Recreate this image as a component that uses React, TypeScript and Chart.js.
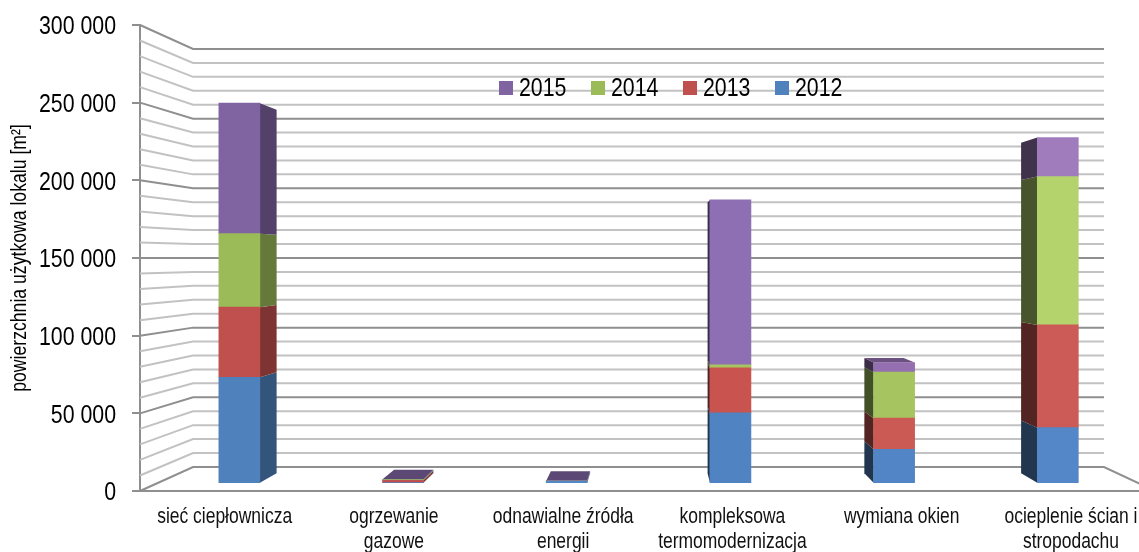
import React, { useEffect, useRef } from "react";
import { Chart, registerables } from "chart.js";

Chart.register(...registerables);

const categories = [
  ["sieć ciepłownicza"],
  ["ogrzewanie", "gazowe"],
  ["odnawialne źródła", "energii"],
  ["kompleksowa", "termomodernizacja"],
  ["wymiana okien"],
  ["ocieplenie ścian i", "stropodachu"],
];
const series2012 = [70300, 100, 1000, 46500, 22300, 36700];
const series2013 = [46700, 1500, 0, 30000, 20700, 68500];
const series2014 = [49000, 500, 0, 2000, 30700, 98900];
const series2015 = [87000, 200, 300, 110000, 6400, 26000];
const shades2012 = ["#4f81bd", "#4f81bd", "#5088c8", "#5083c2", "#5285c5", "#5487c8"];
const shades2013 = ["#c0504d", "#c0504d", "#c0504d", "#c9534f", "#cc5a54", "#cc5a56"];
const shades2014 = ["#9bbb59", "#9bbb59", "#9bbb59", "#a6c561", "#a6c561", "#b4d36d"];
const shades2015 = ["#8064a2", "#8064a2", "#8064a2", "#8f6fb3", "#9470b0", "#a07cbc"];
const seriesLabels = ["2012", "2013", "2014", "2015"];
const yMax = 300000;
const yMajor = 50000;
const yMinor = 10000;
const axisTitle = "powierzchnia użytkowa lokalu [m²]";

const FONT = '"Liberation Sans", Arial, sans-serif';
const NARROW_FACTOR = 0.82;
const VP = { x: 655, y: 257.7 };
const WALL_DEPTH = 0.103;
const BAR_DEPTH = 0.0424;
const WALL_RIGHT = 1104;

function project(x: number, y: number, d: number) {
  return { x: x + (VP.x - x) * d, y: y + (VP.y - y) * d };
}

function darken(hex: string, f: number) {
  const n = parseInt(hex.slice(1), 16);
  const c = [(n >> 16) & 255, (n >> 8) & 255, n & 255].map((v) => Math.round(v * f));
  return `rgb(${c[0]},${c[1]},${c[2]})`;
}

function quad(ctx: CanvasRenderingContext2D, pts: { x: number; y: number }[], fill: string) {
  ctx.fillStyle = fill;
  ctx.beginPath();
  pts.forEach((p, i) => (i ? ctx.lineTo(p.x, p.y) : ctx.moveTo(p.x, p.y)));
  ctx.closePath();
  ctx.fill();
}

// The reference uses a narrow face: draw the installed sans condensed horizontally.
function condenseText(ctx: any) {
  const fill = ctx.fillText.bind(ctx);
  const measure = ctx.measureText.bind(ctx);
  ctx.fillText = (text: string, x: number, y: number) => {
    ctx.save();
    ctx.translate(x, y);
    ctx.scale(NARROW_FACTOR, 1);
    fill(text, 0, 0);
    ctx.restore();
  };
  ctx.measureText = (text: string) => {
    const m = measure(text);
    return {
      width: m.width * NARROW_FACTOR,
      actualBoundingBoxAscent: m.actualBoundingBoxAscent,
      actualBoundingBoxDescent: m.actualBoundingBoxDescent,
    };
  };
}

function clearPadding(s: any) {
  s.paddingTop = 0;
  s.paddingBottom = 0;
  s.paddingLeft = 0;
  s.paddingRight = 0;
}

const perspectivePlugin = {
  id: "perspective",
  beforeDatasetsDraw(chart: any) {
    const { ctx, chartArea, scales } = chart;
    const yScale = scales.y;
    ctx.save();
    // back and side walls
    for (let v = yMinor; v <= yMax; v += yMinor) {
      const major = v % yMajor === 0;
      const yf = yScale.getPixelForValue(v);
      const b = project(chartArea.left, yf, WALL_DEPTH);
      ctx.strokeStyle = major ? "#8f8f8f" : "#c2c2c2";
      ctx.lineWidth = 2;
      ctx.beginPath();
      ctx.moveTo(chartArea.left, yf);
      ctx.lineTo(b.x, b.y);
      ctx.lineTo(WALL_RIGHT, b.y);
      ctx.stroke();
    }
    // floor
    const y0 = yScale.getPixelForValue(0);
    const f = project(chartArea.left, y0, WALL_DEPTH);
    const frontRight = VP.x + (WALL_RIGHT - VP.x) / (1 - WALL_DEPTH);
    ctx.strokeStyle = "#8f8f8f";
    ctx.beginPath();
    ctx.moveTo(chartArea.left, y0);
    ctx.lineTo(f.x, f.y);
    ctx.lineTo(WALL_RIGHT, f.y);
    ctx.lineTo(frontRight, y0);
    ctx.stroke();

    // bar sides and tops
    const lastIdx = chart.data.datasets.length - 1;
    chart.data.datasets.forEach((ds: any, di: number) => {
      chart.getDatasetMeta(di).data.forEach((el: any, j: number) => {
        const { x, y, base, width } = el.getProps(["x", "y", "base", "width"], true);
        const left = x - width / 2;
        const right = x + width / 2;
        const color = ds.shades[j];
        const useRight = x < VP.x;
        const edge = useRight ? right : left;
        if (base - y > 0) {
          quad(
            ctx,
            [{ x: edge, y }, project(edge, y, BAR_DEPTH), project(edge, base, BAR_DEPTH), { x: edge, y: base }],
            darken(color, useRight ? 0.65 : 0.4)
          );
        }
        if (di === lastIdx && y > VP.y) {
          quad(
            ctx,
            [{ x: left, y }, project(left, y, BAR_DEPTH), project(right, y, BAR_DEPTH), { x: right, y }],
            darken(color, 0.72)
          );
        }
      });
    });
    ctx.restore();
  },
  afterDatasetsDraw(chart: any) {
    // legend, reversed: newest year first
    const { ctx } = chart;
    ctx.save();
    ctx.font = `26px ${FONT}`;
    ctx.textBaseline = "middle";
    ctx.textAlign = "left";
    const sets = chart.data.datasets;
    [...sets].reverse().forEach((ds: any, i: number) => {
      const x = 499 + i * 92;
      ctx.fillStyle = ds.shades[0];
      ctx.fillRect(x, 81, 14, 14);
      ctx.fillStyle = "#000";
      ctx.fillText(ds.label, x + 20, 88.5);
    });
    ctx.restore();
  },
};

export default function App() {
  const ref = useRef<HTMLCanvasElement>(null);
  useEffect(() => {
    document.body.style.margin = "0";
    const canvas = ref.current as HTMLCanvasElement;
    condenseText(canvas.getContext("2d"));
    const mk = (label: string, values: number[], shades: string[]) => ({
      label,
      shades,
      data: values.map((v, i) => ({ x: i, y: v })),
      backgroundColor: shades,
      borderWidth: 0,
      xAxisID: "xb",
      yAxisID: "yb",
      barThickness: 41,
    });
    const chart = new Chart(canvas, {
      type: "bar",
      data: {
        datasets: [
          mk(seriesLabels[0], series2012, shades2012),
          mk(seriesLabels[1], series2013, shades2013),
          mk(seriesLabels[2], series2014, shades2014),
          mk(seriesLabels[3], series2015, shades2015),
        ] as any,
      },
      plugins: [perspectivePlugin as any],
      options: {
        responsive: false,
        animation: false,
        layout: { autoPadding: false, padding: { top: 25, left: 0, right: 0, bottom: 0 } },
        plugins: { legend: { display: false }, tooltip: { enabled: false } },
        scales: {
          x: {
            type: "linear",
            position: "bottom",
            offset: false,
            min: -0.5,
            max: 5.402,
            grid: { display: false, offset: false },
            border: { color: "#8f8f8f", width: 2 },
            afterBuildTicks: (s: any) => {
              s.ticks = categories.map((_, i) => ({ value: i }));
            },
            afterFit: (s: any) => {
              s.height = 61;
              clearPadding(s);
            },
            ticks: {
              autoSkip: false,
              maxRotation: 0,
              minRotation: 0,
              padding: 6,
              color: "#111",
              font: { family: FONT, size: 21.3, lineHeight: 1.17 },
              callback: (v: any) => categories[v],
            },
          },
          y: {
            type: "linear",
            position: "left",
            min: 0,
            max: yMax,
            grid: { drawOnChartArea: false, drawTicks: true, tickLength: 8, color: "#8f8f8f", lineWidth: 2 },
            border: { color: "#8f8f8f", width: 2 },
            afterFit: (s: any) => {
              s.width = 140;
              clearPadding(s);
            },
            ticks: {
              stepSize: yMajor,
              padding: 16,
              labelOffset: 2,
              color: "#000",
              font: { family: FONT, size: 26 },
              callback: (v: any) => String(v).replace(/\B(?=(\d{3})+$)/g, " "),
            },
            title: {
              display: true,
              text: axisTitle,
              color: "#000",
              padding: { top: 7, bottom: 0 },
              font: { family: FONT, size: 21.5, weight: "normal" },
            },
          },
          xb: { type: "linear", display: false, stacked: true, offset: false, grid: { offset: false }, min: -0.607, max: 5.496 },
          yb: { type: "linear", display: false, stacked: true, min: -5533, max: 305133 },
        },
      } as any,
    });
    return () => chart.destroy();
  }, []);
  return (
    <div style={{ position: "fixed", left: 0, top: 0, width: 1139, height: 552, background: "#fff" }}>
      <canvas ref={ref} width={1139} height={552} style={{ display: "block" }} />
    </div>
  );
}
